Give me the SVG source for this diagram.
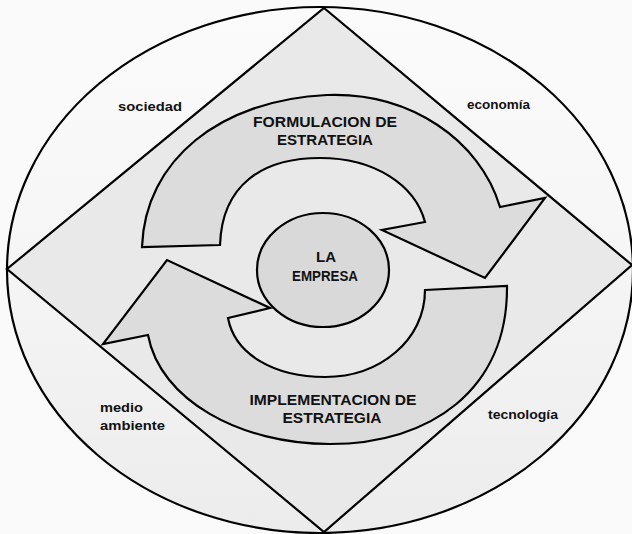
<svg xmlns="http://www.w3.org/2000/svg" width="632" height="534" viewBox="0 0 632 534">
  <style>
    .ln { stroke: #000; stroke-width: 2.2; stroke-linejoin: miter; }
    .lbl { font-family: "Liberation Sans", Arial, sans-serif; font-weight: bold; fill: #111; }
    .sm { font-size: 13px; }
    .cap { font-size: 15px; text-anchor: middle; }
  </style>
  <defs>
    <linearGradient id="outerFill" x1="0" y1="0" x2="0" y2="1">
      <stop offset="0" stop-color="#fbfbfb"/>
      <stop offset="0.45" stop-color="#f6f6f6"/>
      <stop offset="1" stop-color="#ececec"/>
    </linearGradient>
  </defs>
  <rect width="632" height="534" fill="#fafafa"/>

  <g id="entorno">
    <ellipse cx="320" cy="270" rx="313" ry="263" fill="url(#outerFill)" class="ln"/>
    <polygon points="324,8 632,265 324,532 7,269" fill="#e9e9e9" class="ln"/>
  </g>

  <g id="connectors">
    <path id="arrow-formulacion" class="ln" fill="#dcdcdc"
      d="M220,245 L142,247 C145,160 220,100 327,95 C410,92 480,140 500,207 L545,198 L485,278 L382,230 L425,222 C415,185 375,158 320,158 C262,158 222,185 220,245 Z"/>
    <path id="arrow-implementacion" class="ln" fill="#dcdcdc"
      d="M425,290 L507,286 C508,390 430,444 330,444 C240,444 160,400 148,335 L103,344 L167,260 L270,308 L228,318 C235,355 275,377 325,377 C380,377 425,340 425,290 Z"/>
  </g>

  <g id="empresa">
    <ellipse cx="323" cy="270" rx="66" ry="57" fill="#d9d9d9" class="ln"/>
    <text class="lbl cap" font-size="14" x="326" y="262">LA</text>
    <text class="lbl cap" x="325" y="281" textLength="66" lengthAdjust="spacingAndGlyphs" style="font-size:14px">EMPRESA</text>
  </g>

  <g id="formulacion">
    <text class="lbl cap" x="325" y="127" textLength="144" lengthAdjust="spacingAndGlyphs">FORMULACION DE</text>
    <text class="lbl cap" x="325" y="145" textLength="96" lengthAdjust="spacingAndGlyphs">ESTRATEGIA</text>
  </g>

  <g id="implementacion">
    <text class="lbl cap" x="333" y="405" textLength="167" lengthAdjust="spacingAndGlyphs">IMPLEMENTACION DE</text>
    <text class="lbl cap" x="332" y="423" textLength="99" lengthAdjust="spacingAndGlyphs">ESTRATEGIA</text>
  </g>

  <g id="sociedad">
    <text class="lbl sm" x="118" y="111" textLength="64" lengthAdjust="spacingAndGlyphs">sociedad</text>
  </g>
  <g id="economia">
    <text class="lbl sm" x="467" y="109" textLength="63" lengthAdjust="spacingAndGlyphs">economía</text>
  </g>
  <g id="medio-ambiente">
    <text class="lbl sm" x="100" y="412" textLength="43" lengthAdjust="spacingAndGlyphs">medio</text>
    <text class="lbl sm" x="100" y="430" textLength="65" lengthAdjust="spacingAndGlyphs">ambiente</text>
  </g>
  <g id="tecnologia">
    <text class="lbl sm" x="488" y="419" textLength="70" lengthAdjust="spacingAndGlyphs">tecnología</text>
  </g>
</svg>
